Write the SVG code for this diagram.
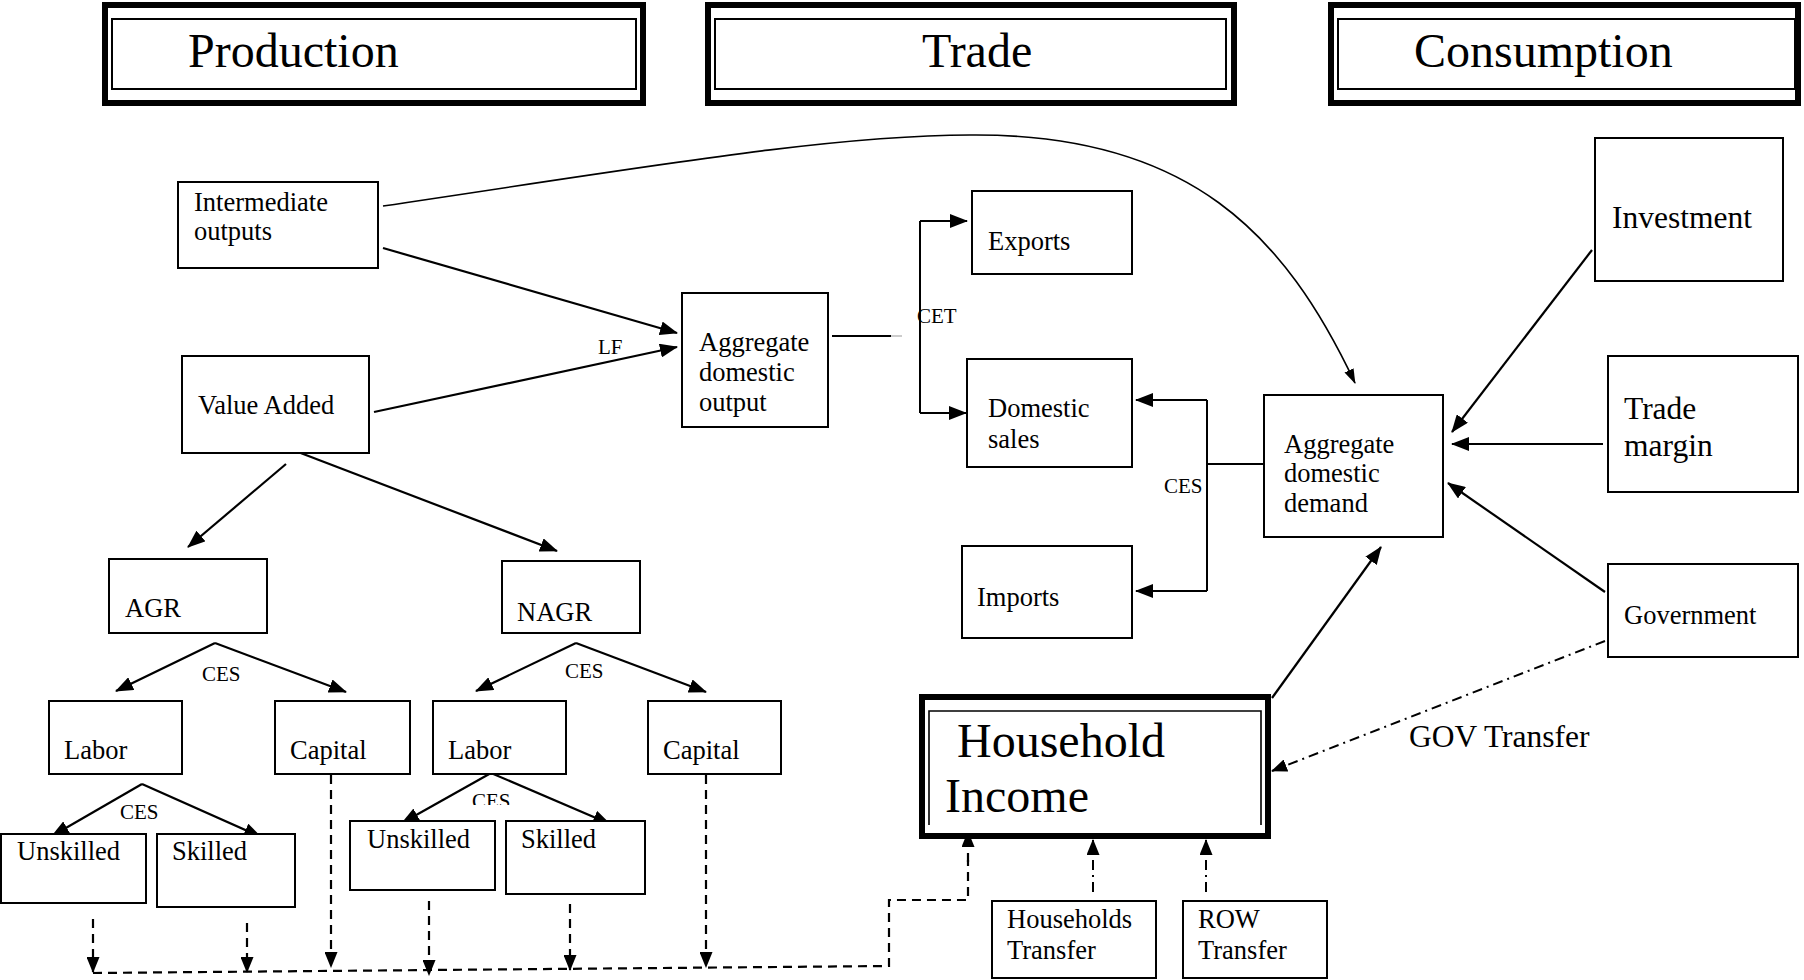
<svg xmlns="http://www.w3.org/2000/svg" width="1804" height="980" viewBox="0 0 1804 980">
<style>
text{font-family:"Liberation Serif","Times New Roman",serif;fill:#000}
.t{font-size:26.5px}
.tl{font-size:31.5px}
.th{font-size:48px}
.tc{font-size:21px}
.box{fill:#fff;stroke:#000;stroke-width:2}
.hdr{fill:#fff;stroke:#000;stroke-width:6}
.inr{fill:none;stroke:#000;stroke-width:2}
.ar{fill:none;stroke:#000;stroke-width:2.2;marker-end:url(#ah)}
.ln{fill:none;stroke:#000;stroke-width:2}
.ds{fill:none;stroke:#000;stroke-width:2.2;stroke-dasharray:9 6}
.dsa{fill:none;stroke:#000;stroke-width:2.2;stroke-dasharray:9 6;marker-end:url(#ah2)}
.dd{fill:none;stroke:#000;stroke-width:2;stroke-dasharray:10 5 2 5;marker-end:url(#ah2)}
</style>
<defs>
<marker id="ah" markerUnits="userSpaceOnUse" markerWidth="18" markerHeight="14" refX="17" refY="7" orient="auto"><path d="M0,0 L18,7 L0,14 z" fill="#000"/></marker>
<marker id="ah2" markerUnits="userSpaceOnUse" markerWidth="16" markerHeight="13" refX="15" refY="6.5" orient="auto"><path d="M0,0 L16,6.5 L0,13 z" fill="#000"/></marker>
<marker id="ahs" markerUnits="userSpaceOnUse" markerWidth="15" markerHeight="10" refX="14" refY="5" orient="auto"><path d="M0,0 L15,5 L0,10 z" fill="#000"/></marker>
<clipPath id="cesclip"><rect x="455" y="780" width="80" height="25"/></clipPath>
</defs>
<rect width="1804" height="980" fill="#fff"/>

<g id="hdr-production">
<rect class="hdr" x="105" y="5" width="538" height="98"/>
<rect class="inr" x="112" y="19" width="524" height="70"/>
<text class="th" x="188" y="67">Production</text>
</g>
<g id="hdr-trade">
<rect class="hdr" x="708" y="5" width="526" height="98"/>
<rect class="inr" x="715" y="19" width="511" height="70"/>
<text class="th" x="922" y="67">Trade</text>
</g>
<g id="hdr-consumption">
<rect class="hdr" x="1331" y="5" width="467" height="98"/>
<rect class="inr" x="1338" y="19" width="457" height="70"/>
<text class="th" x="1414" y="67">Consumption</text>
</g>

<g id="connectors">
<path d="M383,206 C640,168 830,135 970,135 C1190,133 1285,235 1355,383" fill="none" stroke="#000" stroke-width="1.6" marker-end="url(#ahs)"/>
<path class="ar" d="M383,248 L677,333"/>
<path class="ar" d="M374,412 L677,347"/>
<path class="ln" d="M832,336 H891"/>
<path d="M891,336 H902" stroke="#999" stroke-width="1"/>
<path class="ar" d="M920,221 H967"/>
<path class="ar" d="M920,413 H966"/>
<path class="ln" d="M920,221 V413"/>
<path class="ar" d="M1207,400 H1136"/>
<path class="ar" d="M1207,591 H1136"/>
<path class="ln" d="M1207,400 V591 M1207,464 H1263"/>
<path class="ar" d="M1592,250 L1452,432"/>
<path class="ar" d="M1603,444 H1452"/>
<path class="ar" d="M1605,592 L1448,483"/>
<path class="ar" d="M1272,698 L1381,547"/>
<path class="dd" d="M1605,641 L1272,771"/>
<path class="ar" d="M286,464 L188,547"/>
<path class="ar" d="M298,452 L557,551"/>
<path class="ar" d="M215,643 L116,691"/>
<path class="ar" d="M215,643 L346,692"/>
<path class="ar" d="M576,643 L476,691"/>
<path class="ar" d="M576,643 L706,692"/>
<path class="ar" d="M142,784 L52,836"/>
<path class="ar" d="M142,784 L261,837"/>
<path class="ar" d="M491,773 L402,823"/>
<path class="ar" d="M491,773 L610,824"/>
<path class="dsa" d="M93,919 V972"/>
<path class="dsa" d="M247,923 V972"/>
<path class="dsa" d="M331,775 V967"/>
<path class="dsa" d="M429,901 V975"/>
<path class="dsa" d="M570,904 V970"/>
<path class="dsa" d="M706,775 V967"/>
<path class="ds" d="M93,973 L889,966 V900 H968 V860"/>
<path class="dsa" d="M968,862 V832"/>
<path class="dd" d="M1093,892 V840"/>
<path class="dd" d="M1206,892 V840"/>
</g>

<g id="n-intermediate"><rect class="box" x="178" y="182" width="200" height="86"/><text class="t" x="194" y="211">Intermediate</text><text class="t" x="194" y="240">outputs</text></g>
<g id="n-valueadded"><rect class="box" x="182" y="356" width="187" height="97"/><text class="t" x="198" y="414">Value Added</text></g>
<g id="n-aggoutput"><rect class="box" x="682" y="293" width="146" height="134"/><text class="t" x="699" y="351">Aggregate</text><text class="t" x="699" y="381">domestic</text><text class="t" x="699" y="411">output</text></g>
<text class="tc" x="598" y="354">LF</text>
<g id="n-exports"><rect class="box" x="972" y="191" width="160" height="83"/><text class="t" x="988" y="250">Exports</text></g>
<g id="n-domestic"><rect class="box" x="967" y="359" width="165" height="108"/><text class="t" x="988" y="417">Domestic</text><text class="t" x="988" y="448">sales</text></g>
<g id="n-imports"><rect class="box" x="962" y="546" width="170" height="92"/><text class="t" x="977" y="606">Imports</text></g>
<text class="tc" x="917" y="323">CET</text>
<text class="tc" x="1164" y="493">CES</text>
<g id="n-aggdemand"><rect class="box" x="1264" y="395" width="179" height="142"/><text class="t" x="1284" y="453">Aggregate</text><text class="t" x="1284" y="482">domestic</text><text class="t" x="1284" y="512">demand</text></g>
<g id="n-investment"><rect class="box" x="1595" y="138" width="188" height="143"/><text class="tl" x="1612" y="228">Investment</text></g>
<g id="n-trademargin"><rect class="box" x="1608" y="356" width="190" height="136"/><text class="tl" x="1624" y="419">Trade</text><text class="tl" x="1624" y="456">margin</text></g>
<g id="n-government"><rect class="box" x="1608" y="564" width="190" height="93"/><text class="t" x="1624" y="624">Government</text></g>
<text class="tl" x="1409" y="747">GOV Transfer</text>

<g id="n-household">
<rect x="922" y="697" width="346" height="139" fill="#fff" stroke="#000" stroke-width="6"/>
<path d="M929,825 V711 H1261 V825" fill="none" stroke="#000" stroke-width="1.6"/>
<text x="957" y="757" style="font-size:48px">Household</text>
<text x="945" y="812" style="font-size:48px">Income</text>
</g>
<g id="n-hhtransfer"><rect class="box" x="992" y="901" width="164" height="77"/><text class="t" x="1007" y="928">Households</text><text class="t" x="1007" y="959">Transfer</text></g>
<g id="n-rowtransfer"><rect class="box" x="1183" y="901" width="144" height="77"/><text class="t" x="1198" y="928">ROW</text><text class="t" x="1198" y="959">Transfer</text></g>

<g id="n-agr"><rect class="box" x="109" y="559" width="158" height="74"/><text class="t" x="125" y="617">AGR</text></g>
<g id="n-nagr"><rect class="box" x="502" y="561" width="138" height="72"/><text class="t" x="517" y="621">NAGR</text></g>
<text class="tc" x="202" y="681">CES</text>
<text class="tc" x="565" y="678">CES</text>
<g id="n-labor-agr"><rect class="box" x="49" y="701" width="133" height="73"/><text class="t" x="64" y="759">Labor</text></g>
<g id="n-capital-agr"><rect class="box" x="275" y="701" width="135" height="73"/><text class="t" x="290" y="759">Capital</text></g>
<g id="n-labor-nagr"><rect class="box" x="433" y="701" width="133" height="73"/><text class="t" x="448" y="759">Labor</text></g>
<g id="n-capital-nagr"><rect class="box" x="648" y="701" width="133" height="73"/><text class="t" x="663" y="759">Capital</text></g>
<text class="tc" x="120" y="819">CES</text>
<text class="tc" x="472" y="808" clip-path="url(#cesclip)">CES</text>
<g id="n-unskilled-agr"><rect class="box" x="1" y="834" width="145" height="69"/><text class="t" x="17" y="860">Unskilled</text></g>
<g id="n-skilled-agr"><rect class="box" x="157" y="834" width="138" height="73"/><text class="t" x="172" y="860">Skilled</text></g>
<g id="n-unskilled-nagr"><rect class="box" x="350" y="821" width="145" height="69"/><text class="t" x="367" y="848">Unskilled</text></g>
<g id="n-skilled-nagr"><rect class="box" x="506" y="821" width="139" height="73"/><text class="t" x="521" y="848">Skilled</text></g>
</svg>
